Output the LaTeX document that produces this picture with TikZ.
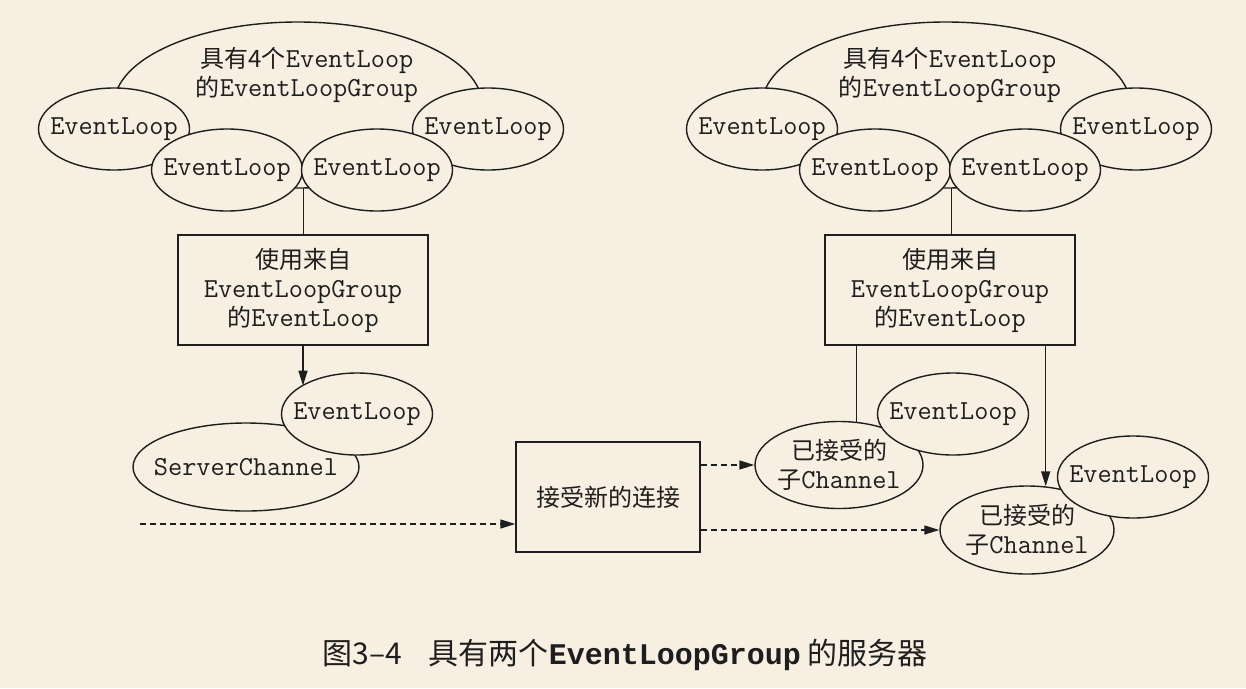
\documentclass[tikz,border=0pt]{standalone}
\usepackage{fontspec}
\newfontfamily\cjk{Noto Sans CJK SC}
\newfontfamily\capmono{Liberation Mono}
\usetikzlibrary{arrows.meta,shapes.geometric}
\definecolor{bg}{HTML}{F7F0E2}
\definecolor{ink}{HTML}{1E1E1E}
\newcommand{\zh}[1]{{\fontsize{24}{29}\selectfont\cjk #1}}
\begin{document}
\begin{tikzpicture}[x=1pt,y=-1pt,
  every node/.style={font=\fontsize{27.5}{29}\selectfont\ttfamily, inner sep=0pt, align=center, text=ink},
  ell/.style={ellipse, draw=ink, line width=1.4pt, fill=bg, inner xsep=-45pt, inner ysep=-16pt},
  elloop/.style={ell, minimum width=151pt, minimum height=82pt},
  chan/.style={ell, minimum width=168pt, minimum height=87pt},
  cloud/.style={ell, minimum width=368pt, minimum height=166pt},
  procbox/.style={draw=ink, line width=1.4pt, fill=bg},
  conn/.style={draw=ink, line width=1.4pt},
  tip/.style={-{Triangle[length=15pt,width=9pt]}},
  dashline/.style={conn, dash pattern=on 6pt off 4pt}]
\fill[bg] (0,0) rectangle (1246,688);
\useasboundingbox (0,0) rectangle (1246,688);

% ---- left group ----
\node[cloud] (gL) at (298,105) {};
\node (gLt) at (307,75) {\zh{具有4个}EventLoop\\\zh{的}EventLoopGroup};
\node[elloop] (aL1) at (114,129) {EventLoop};
\node[elloop] (aL4) at (488,129) {EventLoop};
\node[elloop] (aL2) at (227,170) {EventLoop};
\node[elloop] (aL3) at (377,170) {EventLoop};
\node[procbox, minimum width=250pt, minimum height=110pt] (bL) at (303,290)
  {\zh{使用来自}\\EventLoopGroup\\\zh{的}EventLoop};
\draw[conn] (aL2.east |- aL2.-15) -- (aL2.east |- bL.north);

\node[ell, minimum width=226pt, minimum height=88pt] (sc) at (246,467) {ServerChannel};
\node[elloop] (eL) at (357,414) {EventLoop};
\draw[conn,tip] (bL.south) -- (bL.south |- eL.153);

% ---- accept box ----
\coordinate (in) at (140,524);
\node[procbox, minimum width=184pt, minimum height=110pt] (acc) at (608,497) {\zh{接受新的连接}};
\draw[dashline,tip] (in) -- (in -| acc.west);

% ---- right group ----
\node[cloud] (gR) at (946,105) {};
\node (gRt) at (950,75) {\zh{具有4个}EventLoop\\\zh{的}EventLoopGroup};
\node[elloop] (aR1) at (762,129) {EventLoop};
\node[elloop] (aR4) at (1136,129) {EventLoop};
\node[elloop] (aR2) at (875,170) {EventLoop};
\node[elloop] (aR3) at (1025,170) {EventLoop};
\node[procbox, minimum width=250pt, minimum height=110pt] (bR) at (950,290)
  {\zh{使用来自}\\EventLoopGroup\\\zh{的}EventLoop};
\draw[conn] (aR2.east |- aR2.-15) -- (aR2.east |- bR.north);

\node[chan] (c1) at (839,465) {\zh{已接受的}\\\zh{子}Channel};
\node[elloop] (eR1) at (953,414) {EventLoop};
\node[chan, minimum width=174pt, minimum height=88pt] (c2) at (1027,530) {\zh{已接受的}\\\zh{子}Channel};
\node[elloop] (eR2) at (1133,477) {EventLoop};

\draw[conn] ([xshift=32pt]bR.south west) -- ([xshift=32pt]bR.south west |- c1.67);
\draw[conn,tip] ([xshift=-30pt]bR.south east) -- ([xshift=-30pt]bR.south east |- c2.67);
\draw[dashline,tip] (acc.east |- c1.west) -- (c1.west);
\draw[dashline,tip] (acc.east |- c2.west) -- (c2.west);

% ---- caption ----
\node[font=\fontsize{30}{34}\selectfont\cjk] (cap) at (625,655)
  {图3–4\hspace{0.9em}具有两个{\capmono\bfseries EventLoopGroup} 的服务器};
\end{tikzpicture}
\end{document}
